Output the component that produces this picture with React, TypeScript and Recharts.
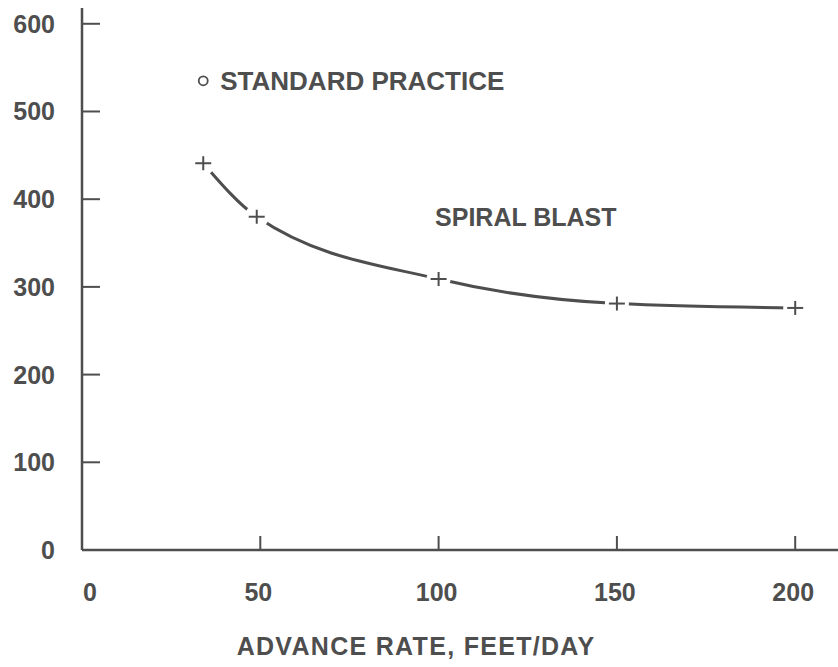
import React from "react";
import { ComposedChart, Line, Scatter, XAxis, YAxis, ReferenceDot } from "recharts";

const xTicks = [0, 50, 100, 150, 200];
const yTicks = [0, 100, 200, 300, 400, 500, 600];

const spiralBlast = [
  { x: 34, y: 441 },
  { x: 49, y: 380 },
  { x: 100, y: 309 },
  { x: 150, y: 281 },
  { x: 200, y: 276 },
];

const standardPractice = [{ x: 34, y: 535 }];

const spiralLabel = { x: 99, y: 380, text: "SPIRAL BLAST" };
const standardLabel = "STANDARD PRACTICE";
const xTitle = "ADVANCE RATE, FEET/DAY";

const INK = "#4e4e4e";
const FONT = "'Liberation Sans', Arial, Helvetica, sans-serif";

const YTick = (props: any) => {
  const { x, y, payload } = props;
  return (
    <g>
      {payload.value !== 0 && (
        <line x1={x} x2={x + 18} y1={y} y2={y} stroke={INK} strokeWidth={2} />
      )}
      <text x={x - 27} y={y + 9} textAnchor="end" fontFamily={FONT} fontWeight="bold" fontSize={25} fill={INK}>
        {payload.value}
      </text>
    </g>
  );
};

const XTick = (props: any) => {
  const { x, y, payload } = props;
  return (
    <g>
      {payload.value !== 0 && (
        <line x1={x} x2={x} y1={y} y2={y - 14} stroke={INK} strokeWidth={2} />
      )}
      <text x={payload.value === 0 ? x + 8 : x - 2} y={y + 51} textAnchor="middle" fontFamily={FONT} fontWeight="bold" fontSize={25} fill={INK}>
        {payload.value}
      </text>
    </g>
  );
};

const PlusDot = (props: any) => {
  const { cx, cy } = props;
  if (cx == null || cy == null) return null;
  return (
    <g>
      <circle cx={cx} cy={cy} r={12} fill="#ffffff" />
      <line x1={cx - 8} x2={cx + 8} y1={cy} y2={cy} stroke={INK} strokeWidth={2} />
      <line x1={cx} x2={cx} y1={cy - 7} y2={cy + 7} stroke={INK} strokeWidth={2} />
    </g>
  );
};

const CircleWithLabel = (props: any) => {
  const { cx, cy } = props;
  if (cx == null || cy == null) return null;
  return (
    <g>
      <circle cx={cx} cy={cy} r={4.5} fill="none" stroke={INK} strokeWidth={1.8} />
      <text x={cx + 17} y={cy + 9} fontFamily={FONT} fontWeight="bold" fontSize={26} fill={INK}>
        {standardLabel}
      </text>
    </g>
  );
};

const SpiralText = (props: any) => {
  const { cx, cy } = props;
  return (
    <text x={cx} y={cy + 9} fontFamily={FONT} fontWeight="bold" fontSize={25} fill={INK}>
      {spiralLabel.text}
    </text>
  );
};

export default function App() {
  return (
    <div style={{ position: "absolute", left: 0, top: 0, width: 838, height: 667, background: "#fff" }}>
      <ComposedChart width={838} height={667} margin={{ top: 8, right: 0, bottom: 0, left: 0 }}>
        <XAxis
          dataKey="x"
          type="number"
          domain={[0, 212]}
          ticks={xTicks}
          height={117}
          axisLine={{ stroke: INK, strokeWidth: 2.5 }}
          tickLine={false}
          tickSize={0}
          tickMargin={0}
          tick={<XTick />}
          interval={0}
          label={{
            value: xTitle,
            position: "insideBottom",
            offset: 12,
            fontFamily: FONT,
            fontSize: 25,
            fontWeight: "bold",
            letterSpacing: 1.3,
            fill: INK,
            dx: -44,
          }}
        />
        <YAxis
          type="number"
          domain={[0, 618]}
          ticks={yTicks}
          width={82}
          axisLine={{ stroke: INK, strokeWidth: 2.5 }}
          tickLine={false}
          tickSize={0}
          tickMargin={0}
          tick={<YTick />}
          interval={0}
        />
        <Line
          data={spiralBlast}
          dataKey="y"
          type="monotone"
          stroke={INK}
          strokeWidth={3}
          dot={<PlusDot />}
          activeDot={false}
          isAnimationActive={false}
        />
        <Scatter data={standardPractice} dataKey="y" shape={<CircleWithLabel />} isAnimationActive={false} />
        <ReferenceDot x={spiralLabel.x} y={spiralLabel.y} r={0} shape={<SpiralText />} />
      </ComposedChart>
    </div>
  );
}
